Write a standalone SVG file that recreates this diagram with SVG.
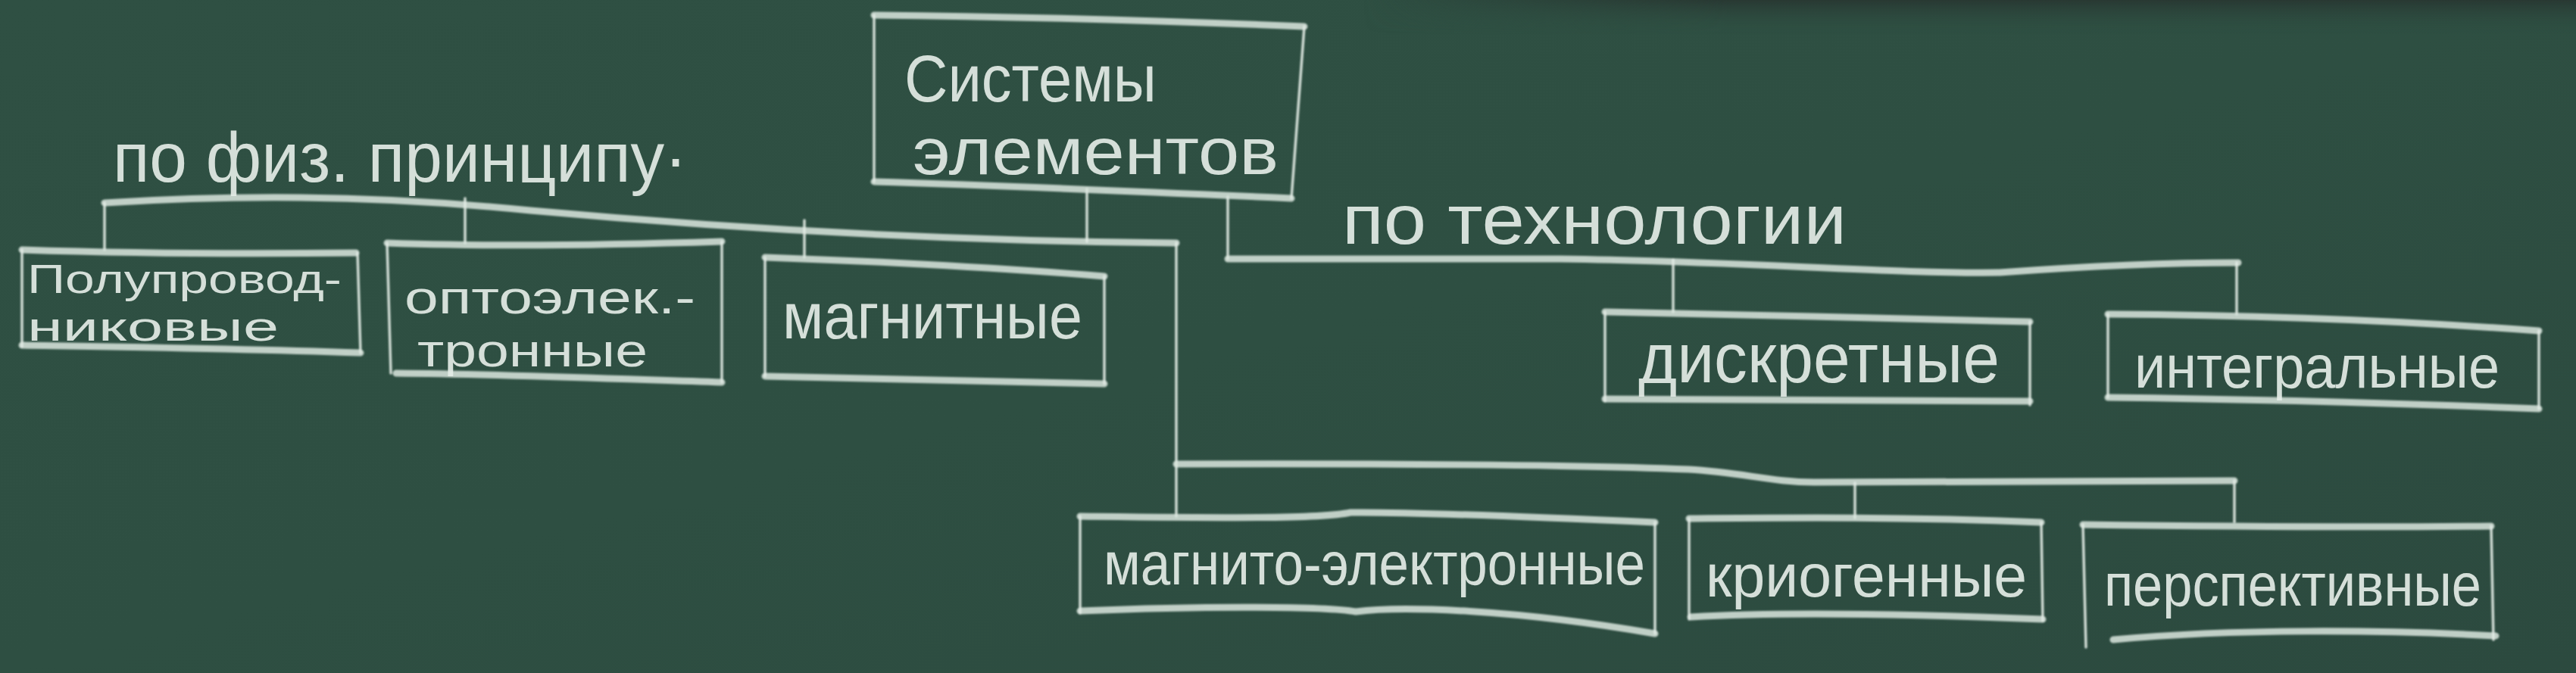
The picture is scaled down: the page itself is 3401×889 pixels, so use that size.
<svg xmlns="http://www.w3.org/2000/svg" width="3401" height="889" viewBox="0 0 3401 889">
<defs>
<linearGradient id="board" x1="0" y1="0" x2="1" y2="1">
<stop offset="0" stop-color="#2f5043"/>
<stop offset="0.5" stop-color="#2e4f42"/>
<stop offset="1" stop-color="#2c4a3f"/>
</linearGradient>
<linearGradient id="topband" x1="0" y1="0" x2="0" y2="1">
<stop offset="0" stop-color="#283631" stop-opacity="0.9"/>
<stop offset="1" stop-color="#2e4f42" stop-opacity="0"/>
</linearGradient>
<linearGradient id="topfade" x1="0" y1="0" x2="1" y2="0">
<stop offset="0" stop-color="#fff" stop-opacity="0"/>
<stop offset="0.3" stop-color="#fff" stop-opacity="1"/>
</linearGradient>
<mask id="fade"><rect x="1800" y="0" width="1601" height="45" fill="url(#topfade)"/></mask>
<filter id="chalk" x="-5%" y="-20%" width="110%" height="140%">
<feGaussianBlur stdDeviation="1.2"/>
</filter>
</defs>
<style>
.h{fill:none;stroke:#dbe6de;stroke-width:9;stroke-linecap:round;stroke-linejoin:round;opacity:.85}
.v{fill:none;stroke:#e2ebe4;stroke-width:3.5;stroke-linecap:round;opacity:.9}
.t{font-family:"Liberation Sans",Arial,sans-serif;fill:#e4ece6;opacity:.92}
</style>
<rect x="0" y="0" width="3401" height="889" fill="url(#board)"/>
<rect x="1800" y="0" width="1601" height="45" fill="url(#topband)" mask="url(#fade)"/>

<g id="connectors" filter="url(#chalk)">
<path class="h" d="M138,268 C300,258 480,256 700,278 C900,296 1200,318 1553,321"/>
<path class="v" d="M138,268 V330"/>
<path class="v" d="M614,262 V321"/>
<path class="v" d="M1062,291 V340"/>
<path class="v" d="M1435,250 V319"/>
<path class="v" d="M1553,321 V682"/>
<path class="v" d="M1621,260 V342"/>
<path class="h" d="M1621,342 L2060,342 C2300,345 2500,362 2640,360 C2750,352 2850,347 2955,347"/>
<path class="v" d="M2209,343 V412"/>
<path class="v" d="M2953,347 V415"/>
<path class="h" d="M1553,613 C1800,612 2100,614 2229,620 C2300,624 2340,637 2395,637 L2950,635"/>
<path class="v" d="M2449,638 V684"/>
<path class="v" d="M2950,635 V690"/>
</g>

<g id="root">
<g filter="url(#chalk)">
<path class="h" d="M1154,20 C1350,22 1550,28 1722,35"/>
<path class="h" d="M1154,240 C1350,246 1550,255 1705,262"/>
<path class="v" d="M1154,20 V240 M1722,35 L1705,262"/>
</g>
<text class="t" x="1194" y="134" font-size="88" textLength="333" lengthAdjust="spacingAndGlyphs">Системы</text>
<text class="t" x="1205" y="230" font-size="88" textLength="483" lengthAdjust="spacingAndGlyphs">элементов</text>
</g>

<g id="label-phys">
<text class="t" x="149" y="240" font-size="92" textLength="758" lengthAdjust="spacingAndGlyphs">по физ. принципу·</text>
</g>
<g id="label-tech">
<text class="t" x="1772" y="322" font-size="92" textLength="666" lengthAdjust="spacingAndGlyphs">по технологии</text>
</g>

<g id="n-semicond">
<g filter="url(#chalk)">
<path class="h" d="M29,330 C150,334 300,336 470,334"/>
<path class="h" d="M29,456 C150,458 300,460 476,466"/>
<path class="v" d="M29,330 V458 M472,334 L476,466"/>
</g>
<text class="t" x="36" y="387" font-size="54" textLength="415" lengthAdjust="spacingAndGlyphs">Полупровод-</text>
<text class="t" x="36" y="450" font-size="54" textLength="332" lengthAdjust="spacingAndGlyphs">никовые</text>
</g>

<g id="n-opto">
<g filter="url(#chalk)">
<path class="h" d="M511,321 C650,326 800,324 953,319"/>
<path class="h" d="M523,493 C650,494 800,500 953,505"/>
<path class="v" d="M511,321 L516,493 M953,319 V505"/>
</g>
<text class="t" x="534" y="414" font-size="62" textLength="384" lengthAdjust="spacingAndGlyphs">оптоэлек.-</text>
<text class="t" x="551" y="484" font-size="62" textLength="304" lengthAdjust="spacingAndGlyphs">тронные</text>
</g>

<g id="n-magn">
<g filter="url(#chalk)">
<path class="h" d="M1010,340 C1150,345 1300,352 1458,365"/>
<path class="h" d="M1010,497 C1150,500 1300,503 1458,507"/>
<path class="v" d="M1010,340 V497 M1458,365 V507"/>
</g>
<text class="t" x="1033" y="447" font-size="86" textLength="396" lengthAdjust="spacingAndGlyphs">магнитные</text>
</g>

<g id="n-discr">
<g filter="url(#chalk)">
<path class="h" d="M2119,412 C2300,416 2500,420 2680,425"/>
<path class="h" d="M2119,527 C2300,528 2500,529 2680,530"/>
<path class="v" d="M2119,412 V530 M2680,425 V535"/>
</g>
<text class="t" x="2163" y="505" font-size="92" textLength="477" lengthAdjust="spacingAndGlyphs">дискретные</text>
</g>

<g id="n-integr">
<g filter="url(#chalk)">
<path class="h" d="M2783,415 C2950,416 3150,422 3352,437"/>
<path class="h" d="M2783,525 C2950,527 3150,532 3352,540"/>
<path class="v" d="M2783,415 V525 M3352,437 V540"/>
</g>
<text class="t" x="2818" y="512" font-size="80" textLength="482" lengthAdjust="spacingAndGlyphs">интегральные</text>
</g>

<g id="n-magnel">
<g filter="url(#chalk)">
<path class="h" d="M1426,682 C1600,684 1740,686 1783,677 C1850,676 2050,684 2185,690"/>
<path class="h" d="M1426,807 C1600,800 1750,801 1790,808 C1850,800 2000,805 2185,837"/>
<path class="v" d="M1426,682 V810 M2185,690 V837"/>
</g>
<text class="t" x="1457" y="772" font-size="80" textLength="715" lengthAdjust="spacingAndGlyphs">магнито-электронные</text>
</g>

<g id="n-cryo">
<g filter="url(#chalk)">
<path class="h" d="M2230,685 C2350,684 2500,682 2695,690"/>
<path class="h" d="M2232,815 C2350,808 2500,810 2697,818"/>
<path class="v" d="M2230,685 V818 M2695,690 L2697,820"/>
</g>
<text class="t" x="2252" y="788" font-size="80" textLength="424" lengthAdjust="spacingAndGlyphs">криогенные</text>
</g>

<g id="n-persp">
<g filter="url(#chalk)">
<path class="h" d="M2750,693 C2900,695 3100,697 3289,695"/>
<path class="h" d="M2790,845 C2950,830 3150,832 3295,840"/>
<path class="v" d="M2750,693 L2754,855 M3289,695 L3292,845"/>
</g>
<text class="t" x="2778" y="800" font-size="80" textLength="498" lengthAdjust="spacingAndGlyphs">перспективные</text>
</g>
</svg>
